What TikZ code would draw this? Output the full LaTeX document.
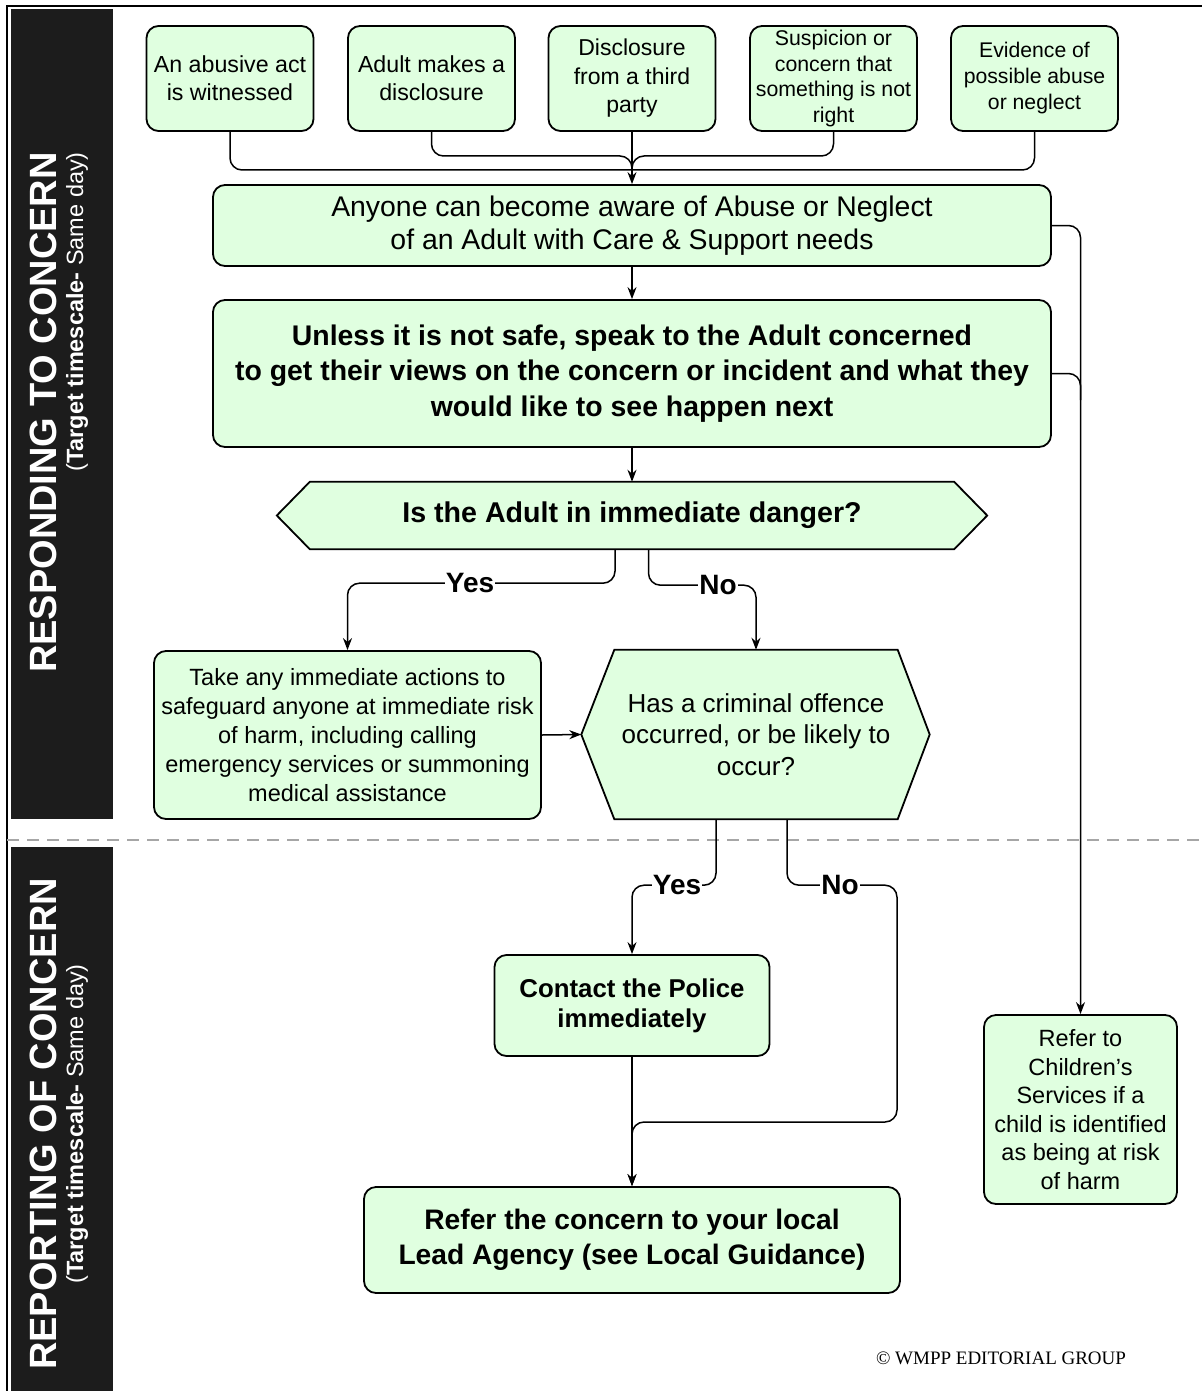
\documentclass[tikz,border=0pt]{standalone}
\usepackage{fontspec}
\setmainfont{Liberation Sans}
\newfontfamily\wmppfont{Liberation Serif}
\usetikzlibrary{arrows.meta,backgrounds}
\definecolor{boxgreen}{HTML}{E0FFE0}
\definecolor{barblack}{HTML}{1C1C1C}
\newcommand{\fsz}[2]{\fontsize{#1}{#2}\selectfont}

\begin{document}
\begin{tikzpicture}[x=1pt,y=-1pt,
    flowbox/.style={draw, line width=1.8pt, fill=boxgreen, rounded corners=12pt, align=center, inner sep=0pt},
    qtext/.style={align=center, inner sep=0pt},
    hexline/.style={draw, line width=1.8pt, fill=boxgreen, line join=miter},
    conn/.style={line width=1.5pt, rounded corners=12pt},
    arr/.style={conn, -{Stealth[length=12pt,width=9pt]}},
    lbl/.style={fill=white, inner sep=1pt, font=\bfseries\fsz{28}{30}},
    sidebar/.style={fill=barblack, inner sep=0pt, minimum width=102pt}]
\useasboundingbox (0,0) rectangle (1202,1391);

% side bars
\node[sidebar, minimum height=810pt] (respbar) at (62,414) {};
\node[sidebar, minimum height=544pt] (repbar) at (62,1119) {};
\draw[line width=2.5pt] (7,1391) -- (7,6) -- (1202,6);
\draw[gray!70, line width=1.5pt, dash pattern=on 12pt off 8pt] (7,840) -- (1202,840);

\node[rotate=90, anchor=east, inner sep=0pt, text=white, font=\bfseries\fsz{38}{40}] (resptitle) at (43,152) {RESPONDING TO CONCERN};
\node[rotate=90, anchor=east, inner sep=0pt, text=white, font=\fsz{23.5}{26}] (respsub) at (77,152) {(\textbf{Target timescale-} Same day)};
\node[rotate=90, inner sep=0pt, text=white, font=\bfseries\fsz{38}{40}] (reptitle) at (43,1124) {REPORTING OF CONCERN};
\node[rotate=90, inner sep=0pt, text=white, font=\fsz{23.5}{26}] (repsub) at (77,1124) {(\textbf{Target timescale-} Same day)};

% ways of becoming aware
\node[flowbox, minimum width=167pt, minimum height=105pt, font=\fsz{23.2}{28}] (witness) at (230,78.5) {An abusive act\\is witnessed};
\node[flowbox, minimum width=167pt, minimum height=105pt, font=\fsz{23.2}{28}] (disclose) at (431.5,78.5) {Adult makes a\\disclosure};
\node[flowbox, minimum width=167pt, minimum height=105pt, font=\fsz{23}{28.5}] (thirdparty) at (632,78.5) {Disclosure\\from a third\\party};
\node[flowbox, minimum width=167pt, minimum height=105pt, font=\fsz{21.3}{25.5}] (suspicion) at (833.5,78.5) {Suspicion or\\concern that\\something is not\\right};
\node[flowbox, minimum width=167pt, minimum height=105pt, font=\fsz{21.2}{26}] (evidence) at (1034.5,78.5) {Evidence of\\possible abuse\\or neglect};

\node[flowbox, minimum width=838pt, minimum height=81pt, font=\fsz{28.4}{33}] (aware) at (632,225.5) {Anyone can become aware of Abuse or Neglect\\of an Adult with Care \& Support needs};
\node[flowbox, minimum width=838pt, minimum height=147pt, font=\bfseries\fsz{28.4}{35.5}] (unless) at (632,373.5) {Unless it is not safe, speak to the Adult concerned\\to get their views on the concern or incident and what they\\would like to see happen next};

\node[qtext, minimum width=644pt, minimum height=67pt, font=\bfseries\fsz{28.6}{32}] (danger) at (632,515.5) {Is the Adult in immediate danger?};
\node[flowbox, minimum width=387pt, minimum height=168pt, font=\fsz{23.5}{29}] (take) at (347.5,735) {Take any immediate actions to\\safeguard anyone at immediate risk\\of harm, including calling\\emergency services or summoning\\medical assistance};
\node[qtext, minimum width=283pt, minimum height=169pt, font=\fsz{26}{31.5}] (crime) at (756,734.5) {Has a criminal offence\\occurred, or be likely to\\occur?};
\coordinate (crimetip) at ([xshift=-33pt]crime.west);

\node[flowbox, minimum width=275pt, minimum height=101pt, font=\bfseries\fsz{25.8}{30}] (police) at (632,1005.5) {Contact the Police\\immediately};
\node[flowbox, minimum width=193pt, minimum height=189pt, font=\fsz{23.5}{28.5}] (kids) at (1080.5,1109.5) {Refer to\\Children’s\\Services if a\\child is identified\\as being at risk\\of harm};
\node[flowbox, minimum width=536pt, minimum height=106pt, font=\bfseries\fsz{28.2}{35}] (refer) at (632,1240) {Refer the concern to your local\\Lead Agency (see Local Guidance)};

\node[inner sep=0pt, font=\wmppfont\fsz{19}{21}] (wmpp) at (1001,1358) {© WMPP EDITORIAL GROUP};

% question outlines
\begin{scope}[on background layer]
\draw[hexline] (danger.north west) -- (danger.north east) -- ([xshift=33pt]danger.east) -- (danger.south east) -- (danger.south west) -- ([xshift=-33pt]danger.west) -- cycle;
\draw[hexline] (crime.north west) -- (crime.north east) -- ([xshift=32pt]crime.east) -- (crime.south east) -- (crime.south west) -- (crimetip) -- cycle;
\end{scope}

% connectors
\coordinate (merge) at (632,170);
\draw[conn] (witness.south) |- (merge);
\draw[conn] (evidence.south) |- (merge);
\draw[conn] (disclose.south) |- (632,156) -- (merge);
\draw[conn] (suspicion.south) |- (632,156) -- (merge);
\draw[arr] (thirdparty.south) -- (aware.north);
\draw[arr] (aware.south) -- (unless.north);
\draw[arr] (aware.east) -| (kids.north);
\draw[conn] (unless.east) -| (1080.5,400);
\draw[arr] (unless.south) -- (danger.north);

\draw[arr] ([xshift=-17pt]danger.south) -- ++(0,34) -| (take.north);
\draw[arr] ([xshift=16.5pt]danger.south) -- ++(0,36) -| (crime.north);
\node[lbl] (yes1) at (470,583) {Yes};
\node[lbl] (no1) at (718,585) {No};

\draw[arr] (take.east) -- (crimetip);
\draw[arr] ([xshift=-40pt]crime.south) -- ++(0,66) -| (police.north);
\draw[arr] ([xshift=31pt]crime.south) -- ++(0,66) -| (897,1122) -| (refer.north);
\draw[arr] (police.south) -- (refer.north);
\node[lbl] (yes2) at (677,885) {Yes};
\node[lbl] (no2) at (840,885) {No};
\end{tikzpicture}
\end{document}
